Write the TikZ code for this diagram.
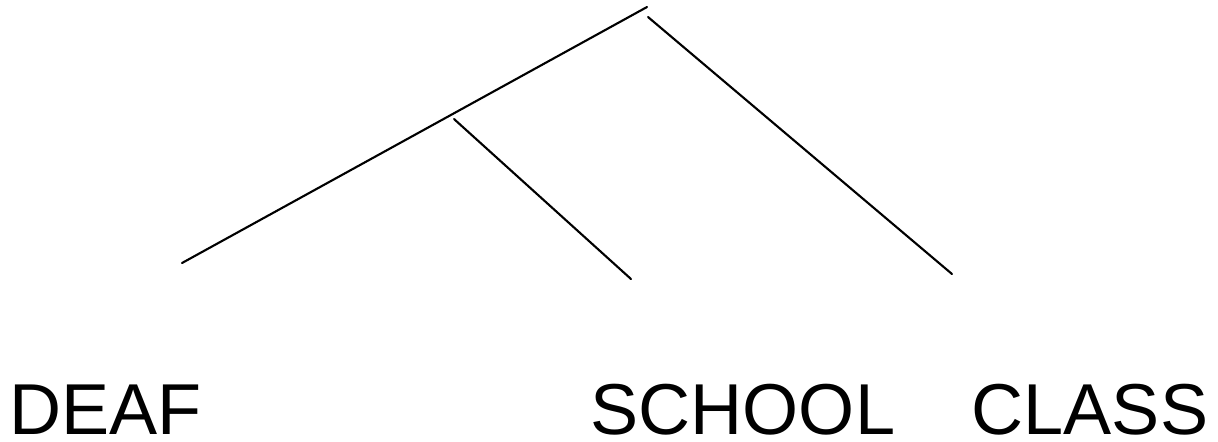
\documentclass[tikz,border=0pt]{standalone}
\usepackage{fontspec}
\setmainfont{Liberation Sans}
\usetikzlibrary{positioning}
\tikzset{
  branch/.style = {line width=0.6pt, line cap=round},
  word/.style   = {anchor=base west, inner sep=0pt,
                   font=\fontsize{20.5}{24}\selectfont}
}

\begin{document}
\begin{tikzpicture}[x=0.01cm, y=-0.01cm]
\useasboundingbox (0,0) rectangle (1218,441);
% ---- branch points of the tree ----
\coordinate (rootl) at (647,7);
\coordinate (rootr) at (648,17);
\coordinate (mid)   at (454,119);
\coordinate (leafd) at (182,263);
\coordinate (leafs) at (631,279);
\coordinate (leafc) at (952,274);

% ---- the words ----
\node[word] (deaf)   at (9,434)   {DEAF};
\node[word] (school) at (590,434) {SCHOOL};
\node[word] (class)  at (971,434) {CLASS};

% ---- branches ----
\draw[branch] (rootl) -- (leafd);
\draw[branch] (rootr) -- (leafc);
\draw[branch] (mid) -- (leafs);
\end{tikzpicture}
\end{document}
